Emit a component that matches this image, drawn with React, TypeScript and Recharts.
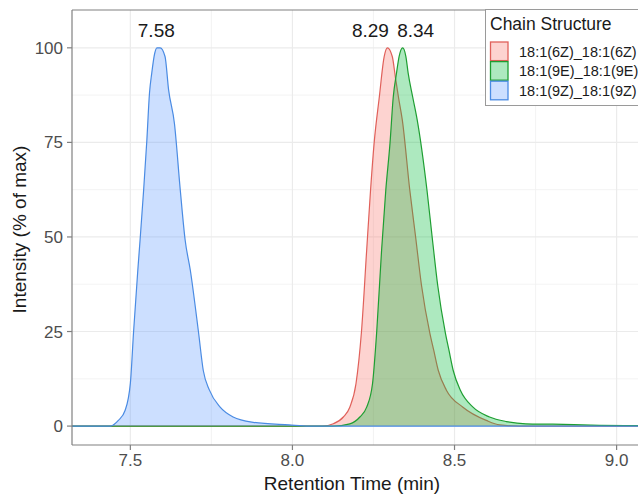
import React from 'react';
import {
  ComposedChart, Area, XAxis, YAxis, CartesianGrid, ReferenceDot, ReferenceLine, Legend, Label,
} from 'recharts';

// retention time (min) and intensity (% of max)
const time6Z = [7.32, 8.094, 8.126, 8.157, 8.177, 8.196, 8.213, 8.229, 8.241, 8.252, 8.268, 8.283, 8.293, 8.308, 8.318, 8.327, 8.339, 8.362, 8.38, 8.398, 8.424, 8.436, 8.45, 8.475, 8.526, 8.598, 8.639, 8.7, 9.066];
const intensity6Z = [0, 0, 0.6, 2.4, 5, 11.2, 25, 46.5, 62.4, 74.8, 87, 97.7, 100, 97.7, 92, 87, 80.9, 62.4, 50, 37.3, 24.5, 20, 14.7, 9.5, 5, 1.5, 0.3, 0, 0];

const time9E = [7.32, 8.125, 8.177, 8.208, 8.229, 8.247, 8.26, 8.275, 8.288, 8.301, 8.311, 8.321, 8.329, 8.34, 8.35, 8.357, 8.371, 8.385, 8.415, 8.431, 8.448, 8.472, 8.483, 8.496, 8.518, 8.557, 8.608, 8.66, 8.72, 8.803, 8.947, 9.066];
const intensity9E = [0, 0, 0.6, 2.4, 5, 11.2, 25, 46.5, 62.4, 74.8, 87, 93.3, 97.7, 100, 97.7, 93.3, 87, 80.9, 62.4, 50, 37.3, 24.5, 20, 14.7, 9.5, 5, 2.4, 1.2, 0.6, 0.5, 0.2, 0.1];

const time9Z = [7.32, 7.438, 7.463, 7.484, 7.5, 7.51, 7.523, 7.53, 7.541, 7.551, 7.559, 7.566, 7.575, 7.582, 7.592, 7.607, 7.618, 7.636, 7.654, 7.669, 7.685, 7.71, 7.725, 7.744, 7.777, 7.817, 7.879, 7.99, 8.05, 9.066];
const intensity9Z = [0, 0, 1.5, 4.2, 11.3, 25, 41.2, 49.2, 62.4, 75.7, 88, 93.3, 98.5, 100, 100, 97.7, 88.9, 80, 62.4, 49.2, 41.2, 25, 14.7, 9.5, 5, 2.4, 1, 0.3, 0, 0];

const seriesNames = ['18:1(6Z)_18:1(6Z)', '18:1(9E)_18:1(9E)', '18:1(9Z)_18:1(9Z)'];
const fillColors = ['#F8766D', '#00BA38', '#619CFF'];
const lineColors = ['#E0605A', '#1E9E32', '#4A8BE3'];

const peakTimes = [7.58, 8.29, 8.34];
const peakLabels = ['7.58', '8.29', '8.34'];
const peakNudge = [0, -16, 13];

const xTicks = [7.5, 8.0, 8.5, 9.0];
const xMinor = [7.75, 8.25, 8.75];
const yTicks = [0, 25, 50, 75, 100];
const yMinor = [12.5, 37.5, 62.5, 87.5];
const xDomain = [7.32, 9.066];
const yDomain = [-5, 110];

const toPoints = (t: number[], v: number[]) => t.map((x, i) => ({ x, y: v[i] }));
const seriesData = [toPoints(time6Z, intensity6Z), toPoints(time9E, intensity9E), toPoints(time9Z, intensity9Z)];

const FONT = '"Liberation Sans", Arial, sans-serif';

const LegendBox = () => (
  <svg width={200} height={98} style={{ display: 'block' }}>
    <rect x={0.5} y={0.5} width={199} height={96} fill="#fff" stroke="#9a9a9a" strokeWidth={1} />
    <text x={5} y={21} fontSize={17.5} fill="#1a1a1a" fontFamily={FONT}>Chain Structure</text>
    {seriesNames.map((name, i) => (
      <g key={name}>
        <rect x={5.5} y={33 + i * 19.6} width={17.5} height={18.6} fill={fillColors[i]} fillOpacity={0.32}
          stroke={lineColors[i]} strokeWidth={1.3} />
        <text x={34} y={47.5 + i * 19.6} fontSize={14.5} fill="#1a1a1a" fontFamily={FONT}>{name}</text>
      </g>
    ))}
  </svg>
);

const PeakLabel = (text: string, dx: number) => (props: any) => {
  const vb = props.viewBox || {};
  const cx = (vb.x ?? 0) + (vb.width ?? 0) / 2;
  const cy = (vb.y ?? 0) + (vb.height ?? 0) / 2;
  return (
    <text x={cx + dx} y={cy - 11} textAnchor="middle" fontSize={19} fill="#1a1a1a" fontFamily={FONT}>{text}</text>
  );
};

const App = () => {
  return (
    <div style={{ position: 'absolute', left: 8, top: 8, width: 630, height: 487, overflow: 'hidden', fontFamily: FONT }}>
      <ComposedChart width={630} height={487} margin={{ top: 2, right: 0, left: 0, bottom: 0 }}>
        <CartesianGrid horizontalValues={yMinor} verticalValues={xMinor} stroke="#f0f0f0" strokeWidth={0.8} />
        <CartesianGrid horizontalValues={yTicks} verticalValues={xTicks} stroke="#ebebeb" strokeWidth={1.2} />
        <XAxis
          dataKey="x" type="number" domain={xDomain} allowDataOverflow ticks={xTicks}
          tickFormatter={(v: number) => v.toFixed(1)} height={50}
          stroke="#808080" strokeWidth={1.2} tickSize={5} tickMargin={4}
          tick={{ fill: '#4d4d4d', fontSize: 17, fontFamily: FONT }}
        >
          <Label content={(p: any) => (
            <text x={p.viewBox.x + p.viewBox.width / 2 - 3} y={p.viewBox.y + 38} textAnchor="middle"
              dominantBaseline="central" fontSize={19} fill="#1a1a1a" fontFamily={FONT}>Retention Time (min)</text>
          )} />
        </XAxis>
        <YAxis
          type="number" domain={yDomain} allowDataOverflow ticks={yTicks} width={64}
          stroke="#808080" strokeWidth={1.2} tickSize={5} tickMargin={4}
          tick={{ fill: '#4d4d4d', fontSize: 17, fontFamily: FONT }}
        >
          <Label content={(p: any) => (
            <text x={11} y={p.viewBox.y + p.viewBox.height / 2 + 2} textAnchor="middle" dominantBaseline="central"
              transform={`rotate(-90, 11, ${p.viewBox.y + p.viewBox.height / 2 + 2})`}
              fontSize={19} fill="#1a1a1a" fontFamily={FONT}>Intensity (% of max)</text>
          )} />
        </YAxis>
        <ReferenceLine y={yDomain[1]} stroke="#808080" strokeWidth={1.2} />
        {seriesData.map((d, i) => (
          <Area
            key={seriesNames[i]}
            data={d}
            dataKey="y"
            name={seriesNames[i]}
            type="monotone"
            baseValue={0}
            fill={fillColors[i]}
            fillOpacity={0.32}
            stroke={lineColors[i]}
            strokeWidth={1.2}
            dot={false}
            activeDot={false}
            isAnimationActive={false}
          />
        ))}
        {peakTimes.map((t, i) => (
          <ReferenceDot key={peakLabels[i]} x={t} y={100} r={1} fill="none" stroke="none"
            label={PeakLabel(peakLabels[i], peakNudge[i])} />
        ))}
        <Legend layout="vertical" align="center" verticalAlign="middle" content={() => <LegendBox />}
          wrapperStyle={{ position: 'absolute', left: 477, top: 1, width: 200, height: 98 }} />
      </ComposedChart>
    </div>
  );
};

export default App;
